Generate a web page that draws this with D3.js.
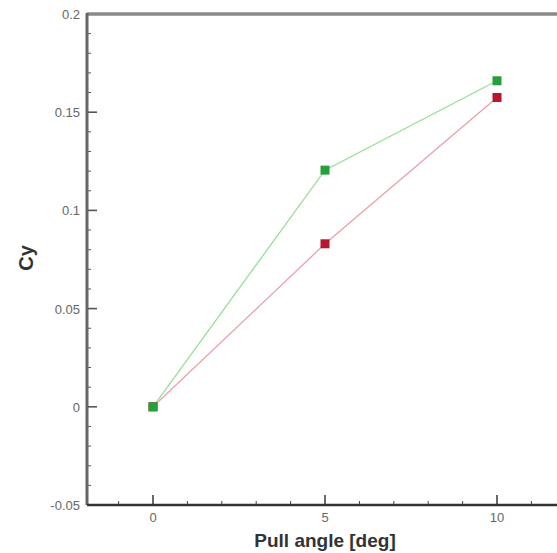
<!DOCTYPE html>
<html><head><meta charset="utf-8">
<script src="https://cdn.jsdelivr.net/npm/d3@7"></script>
<style>body{margin:0;background:#fff}svg{display:block}</style>
</head><body>
<script>
const angles = [0, 5, 10];
const seriesGreen = [0, 0.1205, 0.166];
const seriesRed = [0, 0.083, 0.1575];
const xTicks = [0, 5, 10];
const yTicks = [-0.05, 0, 0.05, 0.1, 0.15, 0.2];
const yTickLabels = ["-0.05", "0", "0.05", "0.1", "0.15", "0.2"];
const xTitle = "Pull angle [deg]";
const yTitle = "Cy";

const W = 557, H = 553;
const svg = d3.select("body").append("svg").attr("width", W).attr("height", H);
const x = d3.scaleLinear().domain([0, 10]).range([153, 497]);
const xMin = x.invert(87);
const y = d3.scaleLinear().domain([-0.05, 0.2]).range([505, 14]);
const font = "Liberation Sans, Arial, sans-serif";

const g = svg.append("g");
// frame top
g.append("line").attr("x1", x(xMin)).attr("x2", W).attr("y1", y(0.2)).attr("y2", y(0.2))
  .attr("stroke", "#8a8a8a").attr("stroke-width", 3.5);
// x ticks (major + minor)
const xMinor = d3.range(-1, 12, 1);
g.selectAll(".xm").data(xMinor).enter().append("line")
  .attr("x1", d => x(d)).attr("x2", d => x(d)).attr("y1", y(-0.05)).attr("y2", d => y(-0.05) - (xTicks.includes(d) ? 10 : 4))
  .attr("stroke", "#444").attr("stroke-width", d => xTicks.includes(d) ? 1.6 : 1);
// y ticks (major + minor)
const yMinor = d3.range(-4, 20).map(i => i / 100);
g.selectAll(".ym").data(yMinor).enter().append("line")
  .attr("x1", x(xMin)).attr("x2", d => x(xMin) + (Math.abs(Math.round(d * 100) % 5) === 0 ? 10 : 4))
  .attr("y1", d => y(d)).attr("y2", d => y(d))
  .attr("stroke", "#555").attr("stroke-width", d => (Math.abs(Math.round(d * 100) % 5) === 0 ? 1.6 : 1));
// axes
g.append("line").attr("x1", x(xMin)).attr("x2", x(xMin)).attr("y1", y(0.2) - 1).attr("y2", y(-0.05))
  .attr("stroke", "#666").attr("stroke-width", 3);
g.append("line").attr("x1", x(xMin)).attr("x2", W).attr("y1", y(-0.05)).attr("y2", y(-0.05))
  .attr("stroke", "#333").attr("stroke-width", 2.5);

// tick labels
g.selectAll(".xl").data(xTicks).enter().append("text")
  .attr("x", d => x(d)).attr("y", y(-0.05) + 17).attr("text-anchor", "middle")
  .attr("font-family", font).attr("font-size", 13).attr("fill", "#666")
  .text(d => d);
g.selectAll(".yl").data(yTicks).enter().append("text")
  .attr("x", x(xMin) - 7).attr("y", d => y(d) + 5).attr("text-anchor", "end")
  .attr("font-family", font).attr("font-size", 13).attr("fill", "#666")
  .text((d, i) => yTickLabels[i]);

// titles
svg.append("text").attr("x", 325).attr("y", 547).attr("text-anchor", "middle")
  .attr("font-family", font).attr("font-size", 19).attr("font-weight", "bold").attr("fill", "#333")
  .text(xTitle);
svg.append("text").attr("transform", "translate(33,258) rotate(-90)").attr("text-anchor", "middle")
  .attr("font-family", font).attr("font-size", 20).attr("font-weight", "bold").attr("fill", "#333")
  .text(yTitle);

// series
const line = d3.line().x((d, i) => x(angles[i])).y(d => y(d));
const series = [
  {vals: seriesRed, line: "#eba0a8", mark: "#b3182f"},
  {vals: seriesGreen, line: "#96e096", mark: "#26a03a"}
];
series.forEach(s => {
  svg.append("path").datum(s.vals).attr("d", line).attr("fill", "none")
    .attr("stroke", s.line).attr("stroke-width", 1.3);
});
series.forEach(s => {
  svg.selectAll(null).data(s.vals).enter().append("rect")
    .attr("x", (d, i) => x(angles[i]) - 4.5).attr("y", d => y(d) - 4.5)
    .attr("width", 9).attr("height", 9).attr("fill", s.mark);
});
</script>
</body></html>
